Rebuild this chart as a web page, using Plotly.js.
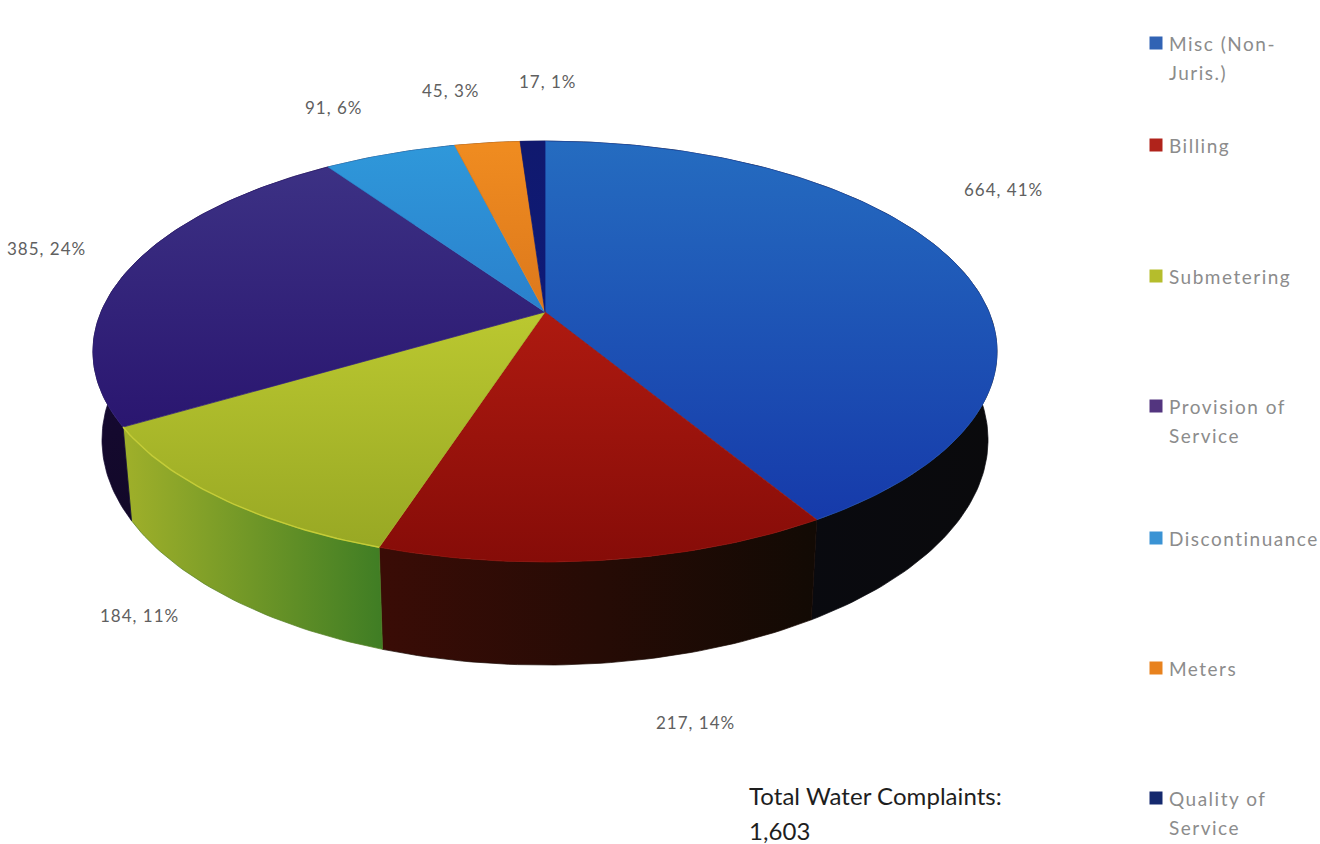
<!DOCTYPE html>
<html>
<head>
<meta charset="utf-8">
<script src="https://cdn.plot.ly/plotly-3.0.1.min.js"></script>
<style>html,body{margin:0;padding:0;background:#fff}#chart{width:1320px;height:844px}</style>
</head>
<body>
<div id="chart"></div>
<script>
// ---- Data ----
const categories = ['Misc (Non-Juris.)','Billing','Submetering','Provision of Service','Discontinuance','Meters','Quality of Service'];
const values = [664, 217, 184, 385, 91, 45, 17];
const legendLines = [['Misc (Non-','Juris.)'],['Billing'],['Submetering'],['Provision of','Service'],['Discontinuance'],['Meters'],['Quality of','Service']];
const totalLines = ['Total Water Complaints:','1,603'];

// ---- Styles and positions ----
const topColors = [['#256cc0','#163aaa'],['#ae1a10','#860c08'],['#bbc830','#98a824'],['#3c3184','#2a1670'],['#2f98da','#2a80cc'],['#f08c20','#dc781c'],['#10196e','#0e1a78']];
const topEdge = ['#1c50b4','#9a120c','#a8b42a','#2f2078','#2c8ad2','#e6821e','#0e1a72'];
const wallColors = [['#080a14','#0a0a0c'],['#3a0c06','#120a04'],['#a0b02a','#3f7d24'],['#1a0c40','#120828'],['#103050','#0a2040'],['#5a3008','#4a2806'],['#060a30','#060a30']];
const wallEdge = ['#0a0a10','#1a0a05','#557f24','#150a30','#0a2040','#4a2806','#060a30'];
const wallGradType = ['horizontal','horizontal','horizontal','vertical','horizontal','horizontal','horizontal'];
const swatchColors = ['#3163b4','#b0231b','#b5bd2c','#53357f','#3a93d4','#e8821e','#14296e'];
const legendY = [43,145,276,406,538,668,798];
const labelCenters = [[1003,189],[695,722],[139,615],[46,248],[333,107],[450,90],[547,81]];

// Perspective view of a flat disc
const cx = 545, cy = 312, R = 444, S = 203, K = 0.188;
function topPoint(deg, r){
  const t = deg*Math.PI/180, x = r*Math.sin(t), v = -r*Math.cos(t), w = 1-K*v;
  return [cx+R*x/w, cy+S*v/w];
}
function lowerPoint(deg){
  const p = topPoint(deg,1);
  return [cx+(p[0]-cx)*0.98, p[1]+102-0.07*(547-p[1])];
}
function arc(a,b,fn){
  const pts=[], n=Math.max(2,Math.ceil(Math.abs(b-a)));
  for(let i=0;i<=n;i++) pts.push(fn(a+(b-a)*i/n));
  return pts;
}
const total = values.reduce((s,v)=>s+v,0);
const slices = []; let acc = 0;
values.forEach(v=>{ slices.push([acc/total*360,(acc+v)/total*360]); acc+=v; });

function poly(pts,name,colors,type,edge){
  const scale = type==='vertical' ? [[0,colors[1]],[1,colors[0]]] : [[0,colors[0]],[1,colors[1]]];
  return {type:'scatter',mode:'lines',x:pts.map(p=>p[0]),y:pts.map(p=>p[1]),name:name,fill:'toself',
    fillgradient:{type:type,colorscale:scale},
    line:{width:0.7,color:edge},hoverinfo:'name',showlegend:false};
}
const traces = [];
// side walls
categories.forEach((c,i)=>{
  const [a,b]=slices[i];
  const pts=arc(a,b,d=>topPoint(d,1)).concat(arc(b,a,lowerPoint));
  pts.push(pts[0]);
  traces.push(poly(pts,c+' (side)',wallColors[i],wallGradType[i],wallEdge[i]));
});
// top faces
categories.forEach((c,i)=>{
  const [a,b]=slices[i];
  const pts=[[cx,cy]].concat(arc(a,b,d=>topPoint(d,1)));
  pts.push([cx,cy]);
  traces.push(poly(pts,c,topColors[i],'vertical',topEdge[i]));
});
// highlight along the rim of the Submetering slice
const rim=arc(slices[2][0],slices[2][1],d=>topPoint(d,1));
traces.push({type:'scatter',mode:'lines',x:rim.map(p=>p[0]),y:rim.map(p=>p[1]),line:{color:'#c4cc38',width:1.5},hoverinfo:'skip',showlegend:false});
// legend swatches
traces.push({type:'scatter',mode:'markers',x:legendY.map(()=>1156),y:legendY,
  marker:{symbol:'square',size:13,color:swatchColors,line:{width:0}},text:categories,hoverinfo:'text',showlegend:false});

const annotations=[];
function note(x,y,text,size,color,anchor,spacing){
  annotations.push({x:x,y:y,xref:'x',yref:'y',text:'<span style="letter-spacing:'+spacing+'px">'+text+'</span>',showarrow:false,
    xanchor:anchor,yanchor:'middle',align:'left',font:{family:'Lato, sans-serif',size:size,color:color}});
}
values.forEach((v,i)=>{
  note(labelCenters[i][0],labelCenters[i][1],v+', '+Math.round(v/total*100)+'%',17,'#606060','center',1);
});
legendLines.forEach((lines,i)=>{
  lines.forEach((t,j)=>note(1167,legendY[i]+j*29,t,19,'#8c8c8c','left',1.5));
});
totalLines.forEach((t,j)=>note(747,795+j*35,t,24,'#1e1e1e','left',0.05));

Plotly.newPlot('chart',traces,{
  width:1320,height:844,margin:{l:0,r:0,t:0,b:0},paper_bgcolor:'#fff',plot_bgcolor:'#fff',
  xaxis:{range:[0,1320],visible:false,fixedrange:true},
  yaxis:{range:[844,0],visible:false,fixedrange:true},
  showlegend:false,annotations:annotations
},{displayModeBar:false});
</script>
</body>
</html>
